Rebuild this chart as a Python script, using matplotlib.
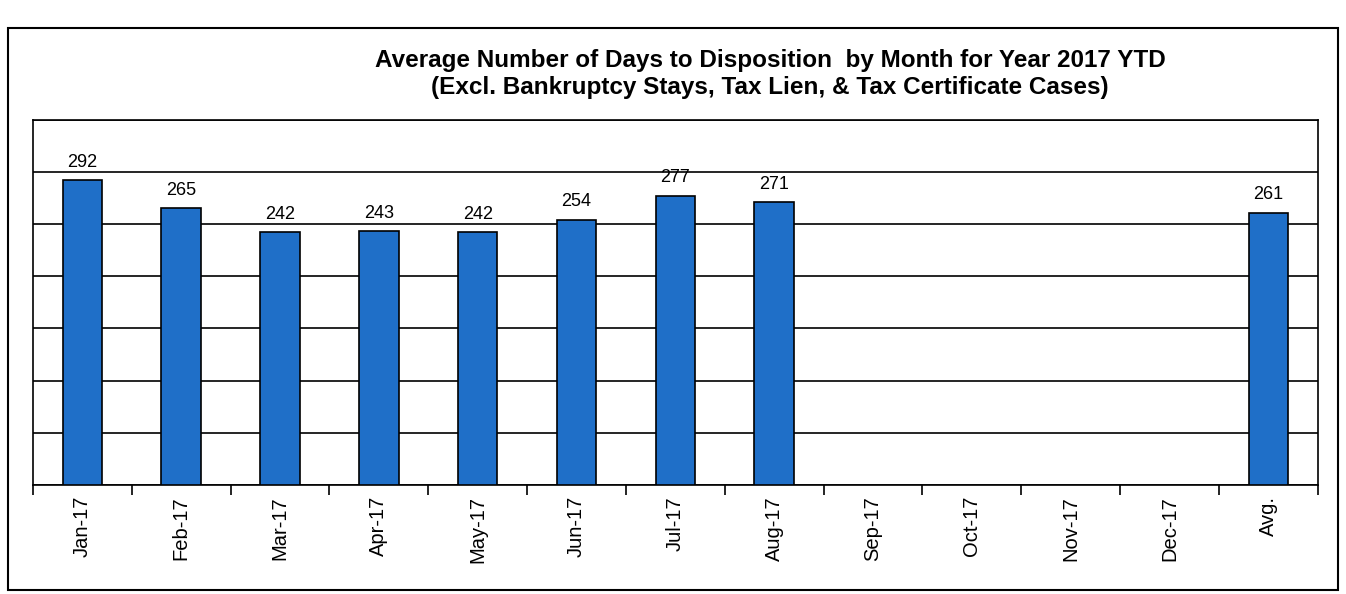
import matplotlib
matplotlib.use("Agg")
import matplotlib.pyplot as plt
from matplotlib.patches import Rectangle
import numpy as np

plt.rcParams["font.family"] = ["Liberation Sans", "DejaVu Sans"]

# Données
mois = ["Jan-17", "Feb-17", "Mar-17", "Apr-17", "May-17", "Jun-17",
        "Jul-17", "Aug-17", "Sep-17", "Oct-17", "Nov-17", "Dec-17", "Avg."]
jours = [292, 265, 242, 243, 242, 254, 277, 271, None, None, None, None, 261]

titre = ("Average Number of Days to Disposition  by Month for Year 2017 YTD\n"
         "(Excl. Bankruptcy Stays, Tax Lien, & Tax Certificate Cases)")

fig = plt.figure(figsize=(13.46, 5.94), dpi=100)
ax = fig.add_axes([0.0245, 0.1835, 0.9545, 0.615])

x = np.arange(len(mois))
valeurs = [v if v is not None else 0 for v in jours]
presents = [v is not None for v in jours]
xs = x[presents]
vs = np.array(valeurs)[presents]
ax.bar(xs, vs, width=0.4, color="#1f6fc8", edgecolor="black", linewidth=1.2, zorder=3)
for xi, v in zip(xs, vs):
    ax.text(xi, v + 9, f"{v}", ha="center", va="bottom", fontsize=13, zorder=4)

ax.set_xlim(-0.5, len(mois) - 0.5)
ax.set_ylim(0, 350)
ax.set_yticks(np.arange(0, 351, 50))
ax.set_yticklabels([])
ax.tick_params(axis="y", length=0)
ax.grid(axis="y", color="black", lw=1.2, zorder=1)

# ticks majeurs aux frontières, étiquettes au centre
ax.set_xticks(np.arange(-0.5, len(mois), 1.0))
ax.set_xticklabels([])
ax.tick_params(axis="x", which="major", length=7, width=1.2, direction="out")
ax.set_xticks(x, minor=True)
ax.set_xticklabels(mois, minor=True, rotation=90, fontsize=14.5)
ax.tick_params(axis="x", which="minor", length=0, pad=8)

for s in ax.spines.values():
    s.set_linewidth(1.2)

fig.text(0.572, 0.875, titre, ha="center", va="center", fontsize=17.5,
         fontweight="bold", linespacing=1.2)

# cadre extérieur du graphique
fig.patches.append(Rectangle((8 / 1346, 4 / 594), 1330 / 1346, 562 / 594,
                             transform=fig.transFigure, fill=False,
                             edgecolor="black", lw=1.5))

fig.savefig("out.png", dpi=100)
